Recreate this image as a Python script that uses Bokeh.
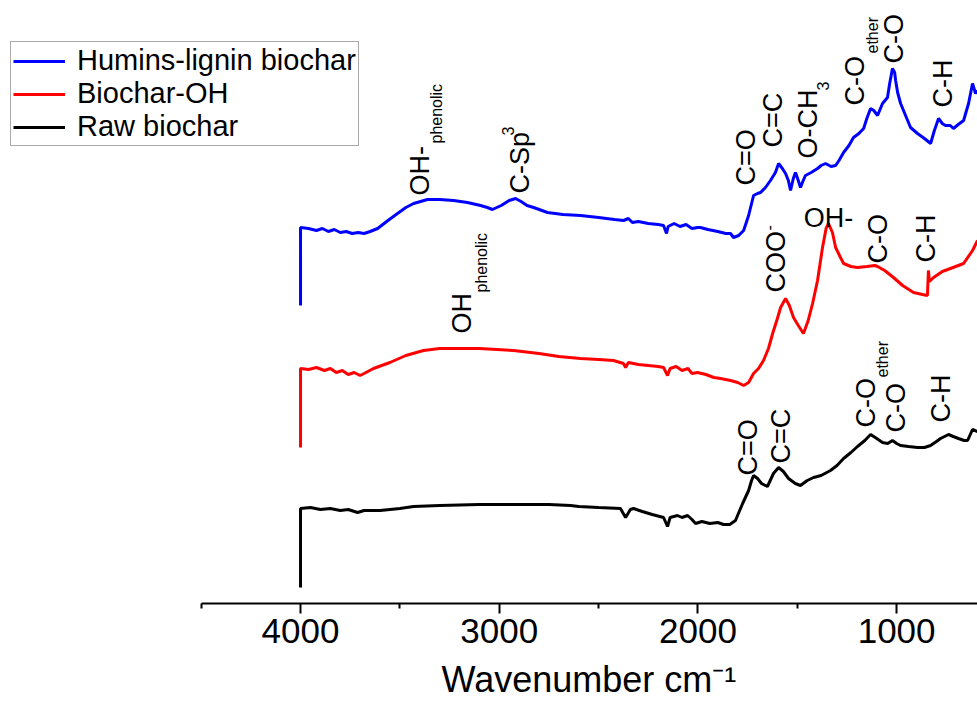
import math
from bokeh.plotting import figure
from bokeh.models import Range1d, FixedTicker, Title
from bokeh.core.properties import value
from bokeh.embed import file_html
from bokeh.resources import INLINE

FONT = "Liberation Sans"

# ---------------- data (wavenumber cm-1, offset intensity a.u.) ----------------
humins_wn = [4000, 4000, 3960, 3920, 3890, 3860, 3830, 3800, 3770, 3740, 3710, 3680, 3650, 3612,
             3560, 3512, 3470, 3431, 3361, 3300, 3230, 3160, 3094, 3060, 3034, 2990, 2950, 2918,
             2890, 2860, 2827, 2757, 2680, 2591, 2500, 2420, 2374, 2350, 2330, 2300, 2250, 2200,
             2173, 2158, 2150, 2120, 2090, 2060, 2030, 2002, 1987, 1950, 1900, 1860, 1836, 1821,
             1795, 1770, 1745, 1720, 1700, 1685, 1660, 1635, 1610, 1594, 1575, 1559, 1545, 1534,
             1520, 1509, 1495, 1484, 1470, 1459, 1430, 1398, 1380, 1358, 1330, 1307, 1290, 1267,
             1240, 1217, 1190, 1166, 1150, 1131, 1115, 1096, 1071, 1046, 1035, 1021, 1010, 1005,
             995, 980, 955, 930, 895, 860, 829, 810, 789, 770, 754, 730, 714, 690, 663, 638, 618,
             603, 593]
humins_y = [2.98, 3.76, 3.75, 3.73, 3.75, 3.72, 3.74, 3.71, 3.72, 3.70, 3.71, 3.70, 3.72, 3.75,
            3.83, 3.90, 3.96, 4.00, 4.04, 4.04, 4.03, 4.01, 3.98, 3.96, 3.94, 3.98, 4.03, 4.05,
            4.02, 3.98, 3.96, 3.91, 3.89, 3.88, 3.86, 3.84, 3.83, 3.85, 3.81, 3.82, 3.80, 3.79,
            3.78, 3.70, 3.77, 3.80, 3.77, 3.79, 3.75, 3.76, 3.76, 3.74, 3.72, 3.70, 3.70, 3.66,
            3.68, 3.73, 3.88, 4.08, 4.10, 4.11, 4.16, 4.23, 4.31, 4.40, 4.35, 4.30, 4.23, 4.13,
            4.25, 4.31, 4.23, 4.16, 4.23, 4.28, 4.31, 4.35, 4.38, 4.40, 4.37, 4.38, 4.43, 4.51,
            4.58, 4.66, 4.70, 4.75, 4.85, 4.95, 4.93, 4.88, 5.00, 5.06, 5.20, 5.35, 5.31, 5.23,
            5.11, 5.00, 4.88, 4.76, 4.70, 4.65, 4.60, 4.73, 4.85, 4.80, 4.78, 4.78, 4.75, 4.79,
            4.83, 5.00, 5.20, 5.10, 5.13]

biochar_oh_wn = [4000, 4000, 3960, 3920, 3880, 3850, 3820, 3790, 3760, 3730, 3700, 3680, 3633,
                 3550, 3470, 3381, 3300, 3230, 3100, 2928, 2800, 2700, 2591, 2500, 2425, 2375,
                 2364, 2350, 2300, 2250, 2200, 2173, 2153, 2140, 2110, 2080, 2050, 2030, 2002,
                 1960, 1920, 1886, 1836, 1800, 1770, 1745, 1720, 1695, 1670, 1645, 1624, 1600,
                 1584, 1559, 1540, 1519, 1495, 1469, 1445, 1423, 1398, 1373, 1355, 1343, 1323,
                 1307, 1285, 1267, 1230, 1197, 1150, 1110, 1096, 1060, 1016, 970, 915, 870, 845,
                 840, 835, 814, 770, 729, 663, 618, 593]
biochar_oh_y = [1.56, 2.35, 2.34, 2.36, 2.33, 2.35, 2.31, 2.33, 2.29, 2.31, 2.28, 2.30, 2.35,
                2.41, 2.48, 2.53, 2.55, 2.55, 2.55, 2.53, 2.50, 2.47, 2.45, 2.44, 2.43, 2.40,
                2.36, 2.41, 2.39, 2.38, 2.37, 2.36, 2.28, 2.35, 2.37, 2.33, 2.35, 2.30, 2.31,
                2.29, 2.26, 2.25, 2.23, 2.21, 2.18, 2.21, 2.30, 2.35, 2.43, 2.55, 2.70, 2.85,
                2.96, 3.05, 2.98, 2.86, 2.78, 2.70, 2.83, 3.00, 3.23, 3.56, 3.75, 3.80, 3.71,
                3.56, 3.47, 3.40, 3.37, 3.36, 3.37, 3.38, 3.37, 3.33, 3.26, 3.18, 3.11, 3.09, 3.08,
                3.33, 3.22, 3.26, 3.32, 3.35, 3.40, 3.53, 3.63]

raw_wn = [4000, 4000, 3950, 3900, 3850, 3800, 3760, 3713, 3680, 3600, 3500, 3431, 3300, 3100,
          2928, 2750, 2641, 2600, 2500, 2390, 2364, 2340, 2324, 2280, 2230, 2173, 2153, 2140,
          2103, 2080, 2052, 2030, 2012, 1980, 1940, 1900, 1871, 1840, 1811, 1790, 1775, 1745,
          1730, 1720, 1700, 1680, 1650, 1620, 1594, 1570, 1544, 1510, 1484, 1450, 1418, 1380,
          1333, 1300, 1267, 1230, 1197, 1160, 1131, 1100, 1071, 1045, 1021, 1000, 980, 940, 895,
          860, 829, 800, 779, 739, 715, 689, 660, 643, 618, 593]
raw_y = [0.16, 0.95, 0.96, 0.94, 0.95, 0.93, 0.94, 0.91, 0.93, 0.93, 0.95, 0.97, 0.98, 0.99,
         0.99, 0.99, 0.98, 0.97, 0.96, 0.95, 0.86, 0.94, 0.95, 0.92, 0.89, 0.86, 0.77, 0.86,
         0.88, 0.86, 0.88, 0.84, 0.80, 0.82, 0.80, 0.81, 0.79, 0.79, 0.83, 0.93, 1.00, 1.13,
         1.23, 1.28, 1.25, 1.20, 1.17, 1.30, 1.36, 1.32, 1.25, 1.20, 1.18, 1.23, 1.26, 1.28,
         1.33, 1.38, 1.45, 1.51, 1.57, 1.63, 1.69, 1.65, 1.61, 1.60, 1.63, 1.60, 1.58, 1.57, 1.56,
         1.56, 1.58, 1.62, 1.65, 1.69, 1.67, 1.65, 1.63, 1.63, 1.74, 1.72]

series_names = ["Humins-lignin biochar", "Biochar-OH", "Raw biochar"]
series_colors = ["#0000FF", "#FF0000", "#000000"]

# band assignments (vertical labels): main text, wavenumber, start height
band_text = ["OH-", "C-Sp", "C=O", "C=C", "O-CH", "C-O", "C-O", "C-H",
             "OH", "COO", "C-O", "C-H",
             "C=O", "C=C", "C-O", "C-O", "C-H"]
band_wn = [3401, 2893, 1760, 1624, 1448, 1207, 1015, 769,
           3185, 1609, 1096, 854,
           1750, 1584, 1156, 1005, 779]
band_y = [4.08, 4.10, 4.18, 4.56, 4.45, 4.98, 5.40, 4.96,
          2.70, 3.11, 3.40, 3.41,
          1.28, 1.40, 1.76, 1.71, 1.81]

sub_text = ["phenolic", "3", "ether", "phenolic", "ether"]
sub_wn = [3316, 1373, 1121, 3089, 1071]
sub_y = [4.60, 5.13, 5.50, 3.11, 2.26]

sup_text = ["3", "-"]
sup_wn = [2958, 1640]
sup_y = [4.68, 3.73]

flat_text = ["OH-"]
flat_wn = [1343]
flat_y = [3.86]

axis_title = "Wavenumber cm\u207b\u00b9"

# ---------------- figure ----------------
p = figure(width=977, height=712, output_backend="svg", toolbar_location=None,
           x_range=Range1d(5510, 593), y_range=Range1d(0, 6.03),
           y_axis_location=None, min_border_left=0, min_border_right=0,
           min_border_top=0, min_border_bottom=109)
p.outline_line_color = None
p.xgrid.visible = False
p.ygrid.visible = False
p.background_fill_color = "white"
p.border_fill_color = "white"

ax = p.xaxis[0]
ax.bounds = (593, 4500)
ax.ticker = FixedTicker(ticks=[1000, 2000, 3000, 4000], minor_ticks=[1500, 2500, 3500, 4500])
ax.axis_line_width = 2
ax.axis_line_color = "black"
ax.major_tick_in = 0
ax.major_tick_out = 10
ax.minor_tick_in = 0
ax.minor_tick_out = 5
ax.major_tick_line_width = 2
ax.minor_tick_line_width = 2
ax.major_label_text_font = FONT
ax.major_label_text_font_size = "35px"
ax.major_label_text_color = "black"
ax.major_label_standoff = 5

title = Title(text=axis_title, align="left", offset=441, text_font=FONT,
              text_font_size="36px", text_font_style="normal", text_color="black",
              standoff=22, text_line_height=0.7)
p.add_layout(title, "below")

for wn, yy, name, col in zip([humins_wn, biochar_oh_wn, raw_wn],
                             [humins_y, biochar_oh_y, raw_y],
                             series_names, series_colors):
    p.line(wn, yy, line_color=col, line_width=3, legend_label=name)

lg = p.legend[0]
lg.location = (10, 457)
lg.label_text_font = FONT
lg.label_text_font_size = "29px"
lg.label_text_color = "black"
lg.glyph_width = 52
lg.label_standoff = 12
lg.spacing = 0
lg.padding = 2
lg.margin = 0
lg.border_line_color = "#555555"
lg.border_line_width = 1
lg.background_fill_alpha = 1

rot = math.pi / 2
p.text(x=band_wn, y=band_y, text=band_text, angle=rot, text_align="left",
       text_baseline="middle", text_font=value(FONT), text_font_size="27px",
       text_color="black")
p.text(x=sub_wn, y=sub_y, text=sub_text, angle=rot, text_align="left",
       text_baseline="middle", text_font=value(FONT), text_font_size="16px",
       text_color="black")
p.text(x=sup_wn, y=sup_y, text=sup_text, angle=rot, text_align="left",
       text_baseline="middle", text_font=value(FONT), text_font_size="16px",
       text_color="black")
p.text(x=flat_wn, y=flat_y, text=flat_text, text_align="center",
       text_baseline="alphabetic", text_font=value(FONT), text_font_size="27px",
       text_color="black")

open("out.html", "w").write(file_html(p, INLINE))
